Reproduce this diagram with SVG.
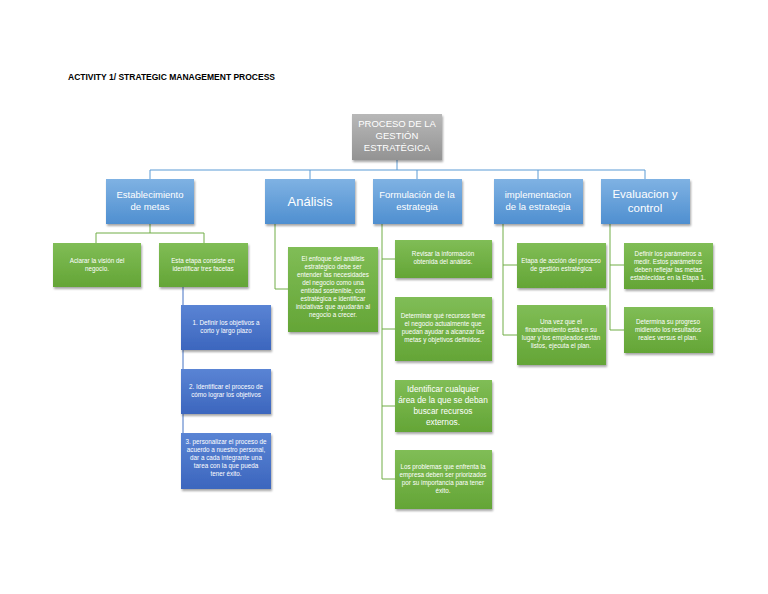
<svg xmlns="http://www.w3.org/2000/svg" width="768" height="594" viewBox="0 0 768 594">
<defs>
<linearGradient id="gG" x1="0" y1="0" x2="0" y2="1"><stop offset="0" stop-color="#80bd56"/><stop offset="1" stop-color="#64a536"/></linearGradient>
<linearGradient id="gB" x1="0" y1="0" x2="0" y2="1"><stop offset="0" stop-color="#7fb2e3"/><stop offset="1" stop-color="#4f8fd0"/></linearGradient>
<linearGradient id="gD" x1="0" y1="0" x2="0" y2="1"><stop offset="0" stop-color="#5a84d4"/><stop offset="1" stop-color="#3c66be"/></linearGradient>
<linearGradient id="gR" x1="0" y1="0" x2="0" y2="1"><stop offset="0" stop-color="#b8b8b8"/><stop offset="1" stop-color="#939393"/></linearGradient>
<filter id="sh" x="-10%" y="-10%" width="130%" height="130%"><feDropShadow dx="1" dy="2" stdDeviation="1.2" flood-opacity="0.35"/></filter>
</defs>
<style>
text{font-family:"Liberation Sans",Arial,sans-serif;fill:#fff;text-anchor:middle}
.g{fill:url(#gG);filter:url(#sh)}
.b{fill:url(#gB);filter:url(#sh)}
.d{fill:url(#gD);filter:url(#sh)}
.s{font-size:6.3px}
.m{font-size:9.5px}
.l{font-size:13px}
.cb{stroke:#5b9bd5;fill:none;stroke-width:1}
.cg{stroke:#70ad47;fill:none;stroke-width:1}
.cd{stroke:#4472c4;fill:none;stroke-width:1}
</style>
<rect width="768" height="594" fill="#fff"/>
<text x="68" y="80" style="fill:#000;text-anchor:start;font-size:8.5px;font-weight:bold">ACTIVITY 1/ STRATEGIC MANAGEMENT PROCESS</text>
<g id="connectors">
<path class="cb" d="M397 160V170M150 170H645M150 170V179M310 170V179M417 170V179M538 170V179M645 170V179"/>
<path class="cg" d="M150 224V233M96 233H204M96 233V243M204 233V243"/>
<path class="cd" d="M183 287V461M183 328H181M183 392H181M183 461H181"/>
<path class="cg" d="M275 224V289H288"/>
<path class="cg" d="M382 224V479M382 259H395M382 329H395M382 406H395M382 479H395"/>
<path class="cg" d="M503 224V335M503 265H517M503 335H517"/>
<path class="cg" d="M610 224V330M610 265H624M610 330H624"/>
</g>
<g id="root"><rect x="352" y="114" width="90" height="46" fill="url(#gR)" filter="url(#sh)"/><text class="m" x="397" y="127">PROCESO DE LA</text><text class="m" x="397" y="139">GESTIÓN</text><text class="m" x="397" y="151">ESTRATÉGICA</text></g>
<g id="n1"><rect class="b" x="106" y="179" width="88" height="45"/><text class="m" x="150" y="198">Establecimiento</text><text class="m" x="150" y="210">de metas</text></g>
<g id="n2"><rect class="b" x="265" y="179" width="90" height="45"/><text class="l" x="310" y="206">Análisis</text></g>
<g id="n3"><rect class="b" x="373" y="179" width="89" height="45"/><text class="m" x="417" y="198">Formulación de la</text><text class="m" x="417" y="210">estrategia</text></g>
<g id="n4"><rect class="b" x="494" y="179" width="89" height="45"/><text class="m" x="538" y="198">implementacion</text><text class="m" x="538" y="210">de la estrategia</text></g>
<g id="n5"><rect class="b" x="601" y="179" width="89" height="45"/><text class="l" x="645" y="198" style="font-size:11.5px">Evaluacion y</text><text class="l" x="645" y="212" style="font-size:11.5px">control</text></g>
<g id="a1"><rect class="g" x="53" y="243" width="88" height="44"/><text class="s" x="97" y="263">Aclarar la visión del</text><text class="s" x="97" y="271">negocio.</text></g>
<g id="a2"><rect class="g" x="159" y="243" width="89" height="44"/><text class="s" x="203" y="263">Esta etapa consiste en</text><text class="s" x="203" y="271">identificar tres facetas</text></g>
<g id="b1"><rect class="d" x="181" y="305" width="90" height="45"/><text class="s" x="226" y="325">1. Definir los objetivos a</text><text class="s" x="226" y="333">corto y largo plazo</text></g>
<g id="b2"><rect class="d" x="181" y="369" width="90" height="45"/><text class="s" x="226" y="389">2. Identificar el proceso de</text><text class="s" x="226" y="397">cómo lograr los objetivos</text></g>
<g id="b3"><rect class="d" x="181" y="433" width="90" height="56"/><text class="s" x="226" y="444">3. personalizar el proceso de</text><text class="s" x="226" y="452">acuerdo a nuestro personal,</text><text class="s" x="226" y="460">dar a cada integrante una</text><text class="s" x="226" y="468">tarea con la que pueda</text><text class="s" x="226" y="476">tener éxito.</text></g>
<g id="c1"><rect class="g" x="288" y="247" width="90" height="85"/><text class="s" x="333" y="261">El enfoque del análisis</text><text class="s" x="333" y="269">estratégico debe ser</text><text class="s" x="333" y="277">entender las necesidades</text><text class="s" x="333" y="285">del negocio como una</text><text class="s" x="333" y="293">entidad sostenible, con</text><text class="s" x="333" y="301">estratégica e identificar</text><text class="s" x="333" y="309">iniciativas que ayudarán al</text><text class="s" x="333" y="317">negocio a crecer.</text></g>
<g id="f1"><rect class="g" x="395" y="240" width="97" height="38"/><text class="s" x="443" y="256">Revisar la información</text><text class="s" x="443" y="264">obtenida del análisis.</text></g>
<g id="f2"><rect class="g" x="395" y="297" width="97" height="64"/><text class="s" x="443" y="318">Determinar qué recursos tiene</text><text class="s" x="443" y="326">el negocio actualmente que</text><text class="s" x="443" y="334">puedan ayudar a alcanzar las</text><text class="s" x="443" y="342">metas y objetivos definidos.</text></g>
<g id="f3"><rect class="g" x="395" y="380" width="97" height="52"/><text x="443" y="392" style="font-size:8.3px">Identificar cualquier</text><text x="443" y="403" style="font-size:8.3px">área de la que se deban</text><text x="443" y="414" style="font-size:8.3px">buscar recursos</text><text x="443" y="425" style="font-size:8.3px">externos.</text></g>
<g id="f4"><rect class="g" x="395" y="450" width="97" height="59"/><text class="s" x="443" y="469">Los problemas que enfrenta la</text><text class="s" x="443" y="477">empresa deben ser priorizados</text><text class="s" x="443" y="485">por su importancia para tener</text><text class="s" x="443" y="493">éxito.</text></g>
<g id="i1"><rect class="g" x="517" y="243" width="89" height="45"/><text class="s" x="561" y="263">Etapa de acción del proceso</text><text class="s" x="561" y="271">de gestión estratégica</text></g>
<g id="i2"><rect class="g" x="517" y="305" width="89" height="60"/><text class="s" x="561" y="324">Una vez que el</text><text class="s" x="561" y="332">financiamiento está en su</text><text class="s" x="561" y="340">lugar y los empleados están</text><text class="s" x="561" y="348">listos, ejecuta el plan.</text></g>
<g id="e1"><rect class="g" x="624" y="243" width="89" height="46"/><text class="s" x="668" y="256">Definir los parámetros a</text><text class="s" x="668" y="264">medir. Estos parámetros</text><text class="s" x="668" y="272">deben reflejar las metas</text><text class="s" x="668" y="280">establecidas en la Etapa 1.</text></g>
<g id="e2"><rect class="g" x="624" y="307" width="89" height="46"/><text class="s" x="668" y="324">Determina su progreso</text><text class="s" x="668" y="332">midiendo los resultados</text><text class="s" x="668" y="340">reales versus el plan.</text></g>
</svg>
